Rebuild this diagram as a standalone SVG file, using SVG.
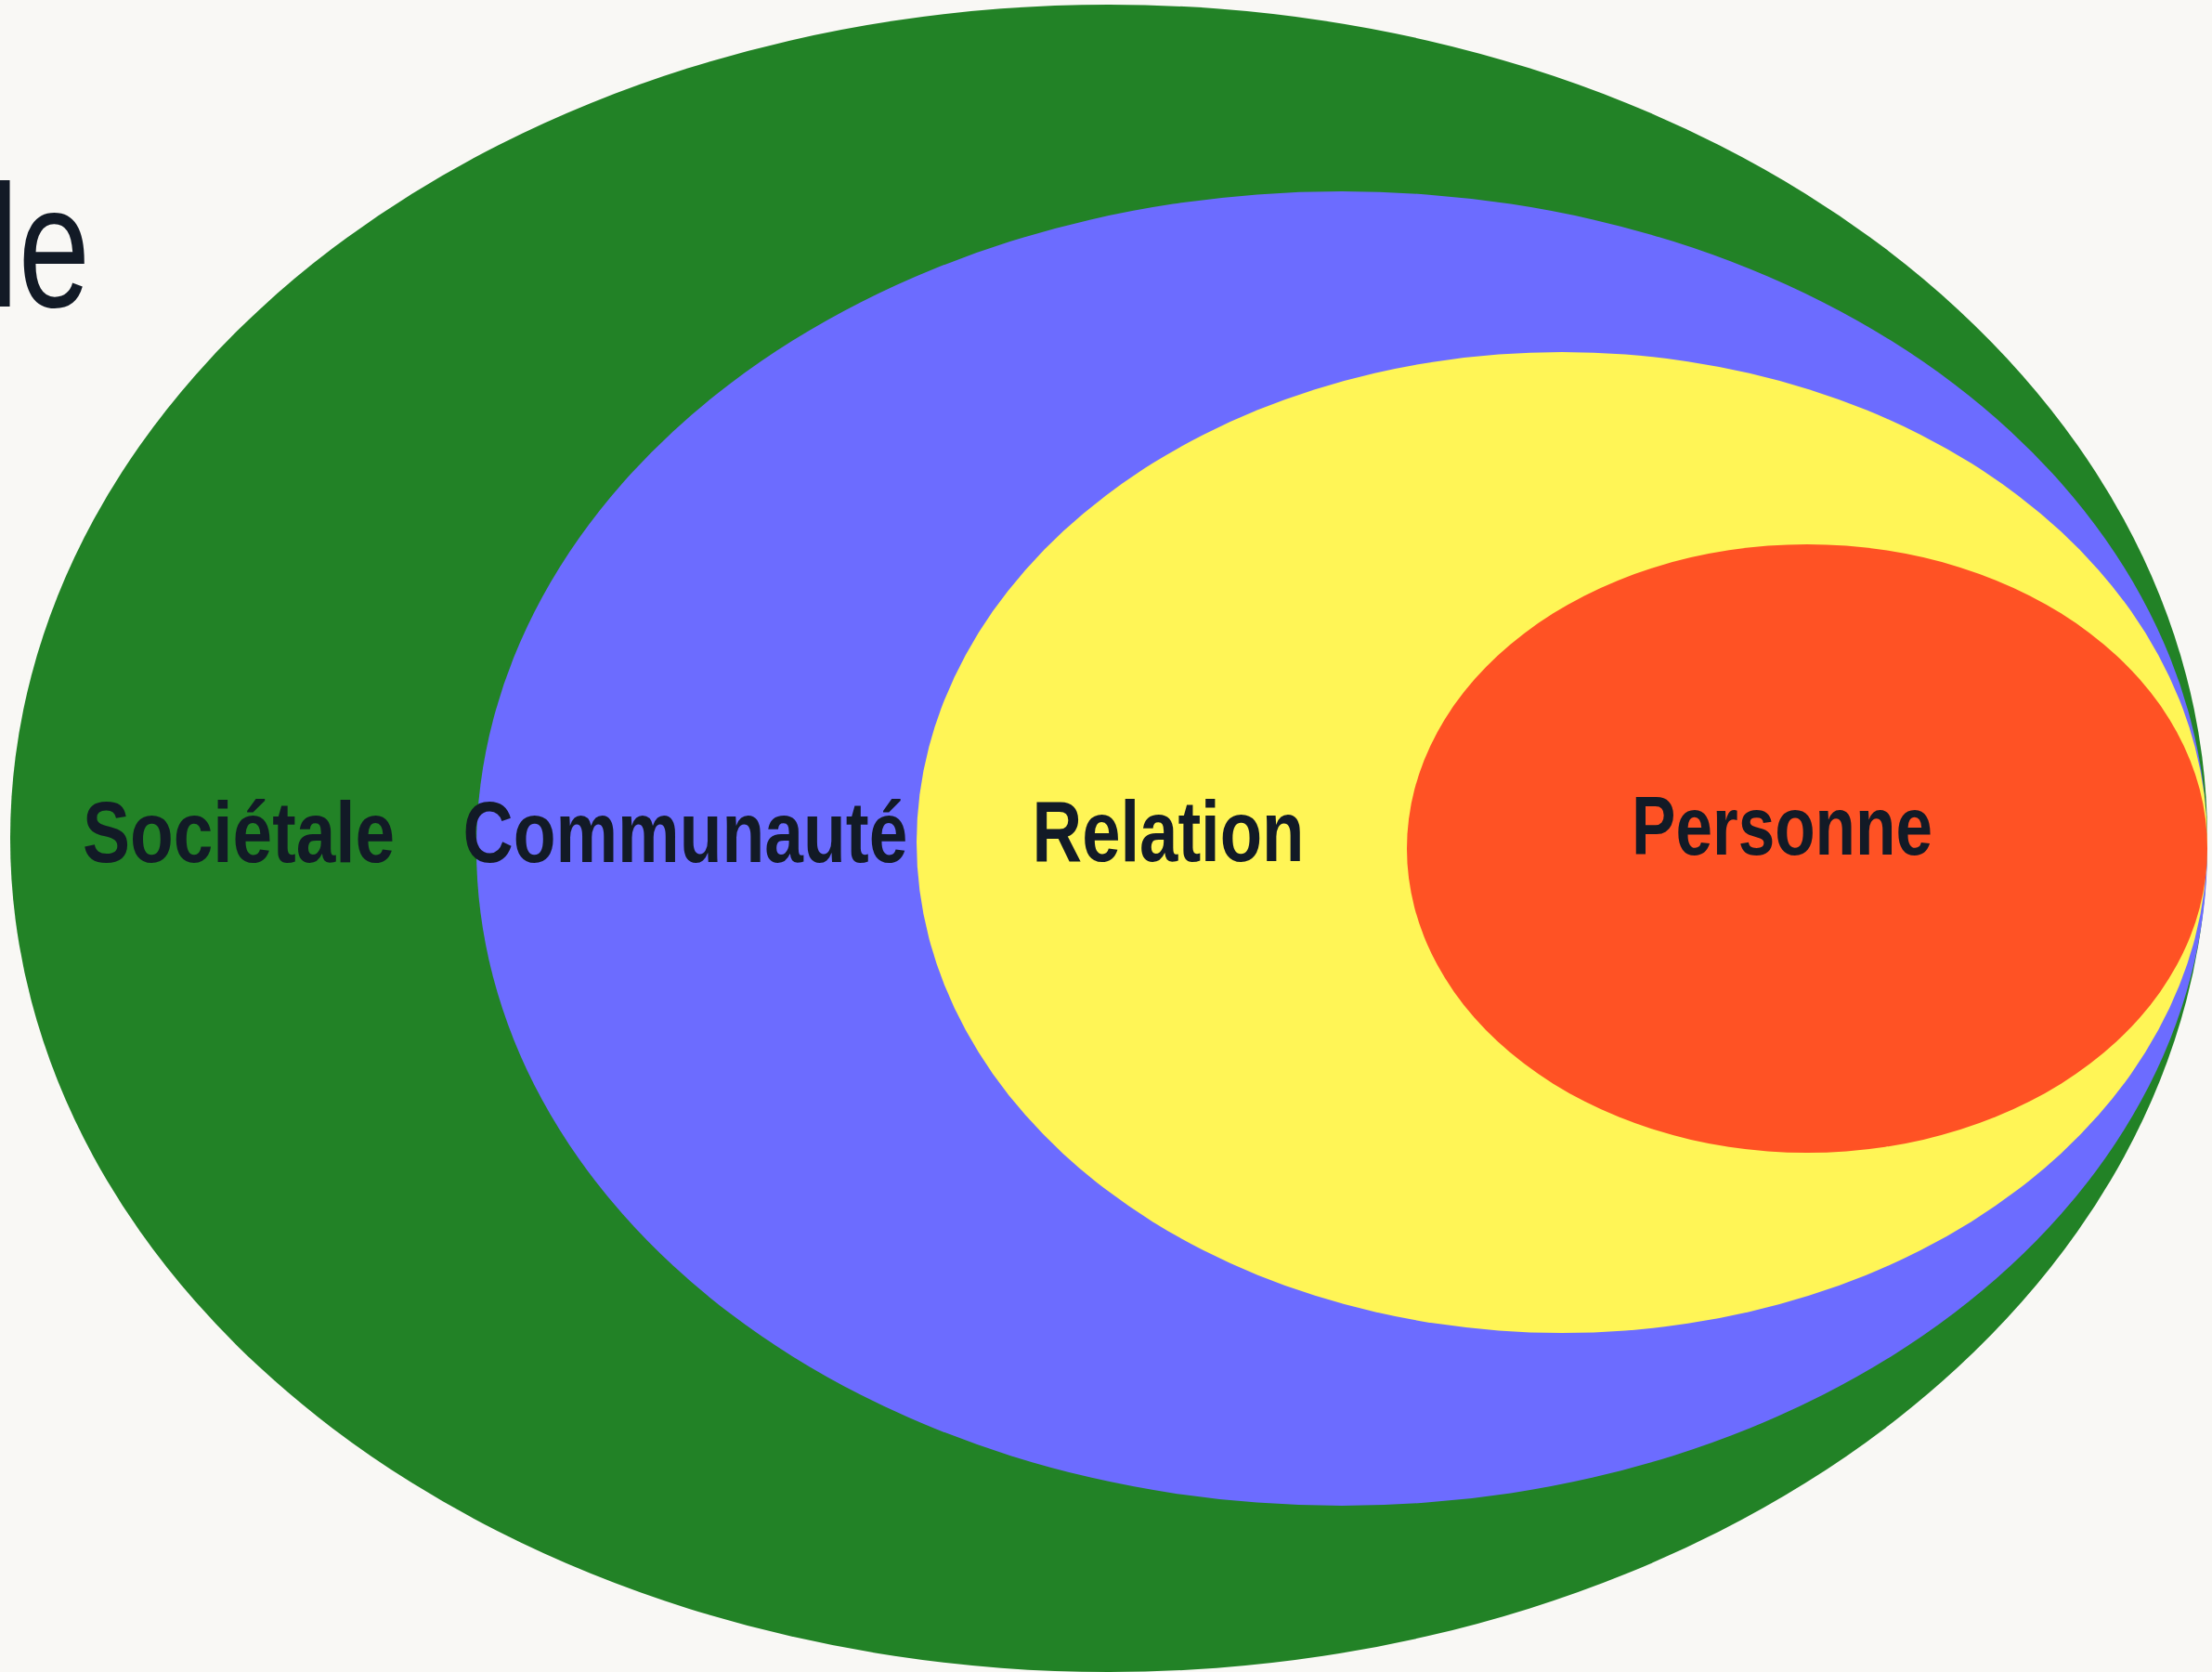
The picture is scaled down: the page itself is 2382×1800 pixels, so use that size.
<svg xmlns="http://www.w3.org/2000/svg" width="2382" height="1800" viewBox="0 0 2382 1800">
  <style>
    .label { font-family: "Liberation Sans Narrow", "Liberation Sans", Arial, sans-serif; font-weight: bold; fill: #121a26; text-anchor: middle; }
    .title { font-family: "Liberation Sans Narrow", "Liberation Sans", Arial, sans-serif; font-weight: normal; fill: #121a26; }
  </style>
  <rect x="0" y="0" width="2382" height="1800" fill="#f9f8f5"/>

  <!-- heading, running in from the left edge -->
  <text class="title" x="-11" y="330" font-size="188" textLength="108" lengthAdjust="spacingAndGlyphs">le</text>

  <!-- nested circles of influence, outermost first -->
  <g id="societale">
    <ellipse cx="1194" cy="902.5" rx="1183" ry="897.5" fill="#228226"/>
    <text class="label" x="257" y="928" font-size="92" textLength="336" lengthAdjust="spacingAndGlyphs">Sociétale</text>
  </g>
  <g id="communaute">
    <ellipse cx="1445" cy="913.5" rx="932" ry="707.5" fill="#6c6cff"/>
    <text class="label" x="738" y="928" font-size="92" textLength="479" lengthAdjust="spacingAndGlyphs">Communauté</text>
  </g>
  <g id="relation">
    <ellipse cx="1682" cy="907" rx="695" ry="528" fill="#fff556"/>
    <text class="label" x="1258" y="927" font-size="92" textLength="293" lengthAdjust="spacingAndGlyphs">Relation</text>
  </g>
  <g id="personne">
    <ellipse cx="1946" cy="913.5" rx="431" ry="327.5" fill="#ff5224"/>
    <text class="label" x="1919" y="920" font-size="89" textLength="324" lengthAdjust="spacingAndGlyphs">Personne</text>
  </g>

  <g id="connectors"></g>
</svg>
